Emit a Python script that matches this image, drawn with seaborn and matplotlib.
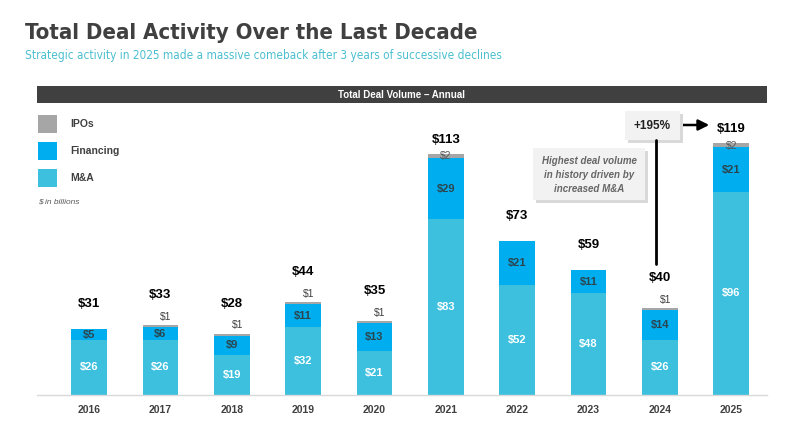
import matplotlib
matplotlib.use("Agg")
import numpy as np
import pandas as pd
import matplotlib.pyplot as plt
from matplotlib.patches import Rectangle
from matplotlib import font_manager
import seaborn as sns

# 数据（单位：十亿美元）
YEARS = ["2016", "2017", "2018", "2019", "2020", "2021", "2022", "2023", "2024", "2025"]
MNA   = [26, 26, 19, 32, 21, 83, 52, 48, 26, 96]
FIN   = [5, 6, 9, 11, 13, 29, 21, 11, 14, 21]
IPO   = [0, 1, 1, 1, 1, 2, 0, 0, 1, 2]
TOTAL = [31, 33, 28, 44, 35, 113, 73, 59, 40, 119]

SERIES = ["IPOs", "Financing", "M&A"]

# 配色
C_MNA = "#3CC0DE"
C_FIN = "#00AEEF"
C_IPO = "#A6A6A6"
DARK = "#404040"
TEAL = "#4BBFCF"
BOX_BG = "#F2F2F2"
SHADOW = "#D9D9D9"

W, H = 800, 445

def fx(px): return px / W
def fy(py): return 1 - py / H

sns.set_theme(style="white")
plt.rcParams["font.family"] = ["Liberation Sans", "DejaVu Sans"]

# 查找是否有窄体字体
names = {f.name for f in font_manager.fontManager.ttflist}
cond = [f for f in font_manager.fontManager.ttflist
        if f.name == "DejaVu Sans" and "ondensed" in str(f.stretch) + f.fname]
if "Liberation Sans Narrow" in names:
    NARROW = dict(family=["Liberation Sans Narrow"], stretch="normal")
    T_SIZE, S_SIZE = 19, 10
elif cond:
    NARROW = dict(family=["DejaVu Sans"], stretch="condensed")
    T_SIZE, S_SIZE = 15.9, 8.5
else:
    NARROW = dict(family=["Liberation Sans"], stretch="normal")
    T_SIZE, S_SIZE = 16.8, 8.8

df = pd.DataFrame({"year": YEARS, "mna": MNA, "fin": FIN, "ipo": IPO, "total": TOTAL})
df["fin_top"] = df["mna"] + df["fin"]
df["ipo_top"] = df["fin_top"] + df["ipo"]

fig = plt.figure(figsize=(8, 4.45), dpi=100)
ax = fig.add_axes([fx(37), fy(395), fx(767) - fx(37), fy(103) - fy(395)])

# 叠加柱：先画总高，再覆盖
for col, c in [("ipo_top", C_IPO), ("fin_top", C_FIN), ("mna", C_MNA)]:
    sns.barplot(data=df, x="year", y=col, color=c, saturation=1, width=0.5,
                linewidth=0, ax=ax, order=YEARS)

ax.set_xlim(-0.73, 9.5)
ax.set_ylim(0, 138)
ax.set_xlabel(""); ax.set_ylabel("")
ax.set_yticks([])
for s in ["top", "left", "right"]:
    ax.spines[s].set_visible(False)
ax.spines["bottom"].set_color("#D9D9D9")
ax.spines["bottom"].set_linewidth(1)
ax.tick_params(axis="x", length=0, pad=7)
for lb in ax.get_xticklabels():
    lb.set_fontweight("bold"); lb.set_fontsize(7.5); lb.set_color(DARK)
ax.patch.set_alpha(0)

# 段内标签
for i, r in df.iterrows():
    ax.text(i, r.mna / 2, f"${r.mna}", ha="center", va="center", color="white",
            fontsize=8, fontweight="bold")
    ax.text(i, r.mna + r.fin / 2, f"${r.fin}", ha="center", va="center", color="#333333",
            fontsize=8, fontweight="bold", alpha=0.85)
    if r.ipo >= 2:
        ax.text(i, r.ipo_top - r.ipo * 0.6, f"${r.ipo}", ha="center", va="center",
                color="#555555", fontsize=7.5)
        off = 14
    elif r.ipo == 1:
        ax.annotate(f"${r.ipo}", (i, r.ipo_top), xytext=(4, 6), textcoords="offset points",
                    ha="center", va="center", color=DARK, fontsize=7.5)
        off = 30
    else:
        off = 25
    ax.annotate(f"${r.total}", (i, r.ipo_top), xytext=(0, off * 0.72), textcoords="offset points",
                ha="center", va="center", color="black", fontsize=9.5, fontweight="bold")

# 标题
fig.text(fx(25), fy(33), "Total Deal Activity Over the Last Decade", **NARROW,
         fontsize=T_SIZE, fontweight="bold", color=DARK, va="center", ha="left")
fig.text(fx(25), fy(56), "Strategic activity in 2025 made a massive comeback after 3 years of successive declines",
         **NARROW, fontsize=S_SIZE, color=TEAL, va="center", ha="left")

# 顶部深色标题条
fig.patches.append(Rectangle((fx(37), fy(103)), fx(767) - fx(37), fy(86) - fy(103),
                             transform=fig.transFigure, facecolor=DARK, edgecolor="none"))
fig.text(fx(402), fy(95), "Total Deal Volume – Annual", fontsize=7,
         fontweight="bold", color="white", ha="center", va="center")

# 图例（手绘）
for k, (name, c) in enumerate(zip(SERIES, [C_IPO, C_FIN, C_MNA])):
    y0 = 115 + k * 27
    fig.patches.append(Rectangle((fx(38), fy(y0 + 18)), fx(19), fy(y0) - fy(y0 + 18),
                                 transform=fig.transFigure, facecolor=c, edgecolor="none"))
    fig.text(fx(70), fy(y0 + 9), name, fontsize=7.5, fontweight="bold", color=DARK, va="center")
fig.text(fx(38), fy(202), "$ in billions", fontsize=6, style="italic", color="#595959", va="center")

def shadow_box(x0, y0, x1, y1):
    fig.patches.append(Rectangle((fx(x0 + 3), fy(y1 + 3)), fx(x1 - x0), fy(y0) - fy(y1),
                                 transform=fig.transFigure, facecolor=SHADOW, edgecolor="none"))
    fig.patches.append(Rectangle((fx(x0), fy(y1)), fx(x1 - x0), fy(y0) - fy(y1),
                                 transform=fig.transFigure, facecolor=BOX_BG, edgecolor="none"))

# 注释框
shadow_box(533, 148, 645, 200)
fig.text(fx(589), fy(175), "Highest deal volume\nin history driven by\nincreased M&A",
         ha="center", va="center", fontsize=7, fontweight="bold", style="italic",
         color="#666666", linespacing=1.45)

shadow_box(625, 111, 680, 140)
fig.add_artist(plt.Line2D([fx(656), fx(656)], [fy(140), fy(264)], color="black", lw=2,
                          transform=fig.transFigure))
fig.text(fx(652), fy(126), "+195%", ha="center", va="center", fontsize=8.5,
         fontweight="bold", color="#222222")
fig.add_artist(matplotlib.patches.FancyArrowPatch((fx(680), fy(125)), (fx(712), fy(125)),
                                                  transform=fig.transFigure, arrowstyle="-|>",
                                                  mutation_scale=16, lw=1.8, color="black"))

fig.savefig("out.png", dpi=100)
